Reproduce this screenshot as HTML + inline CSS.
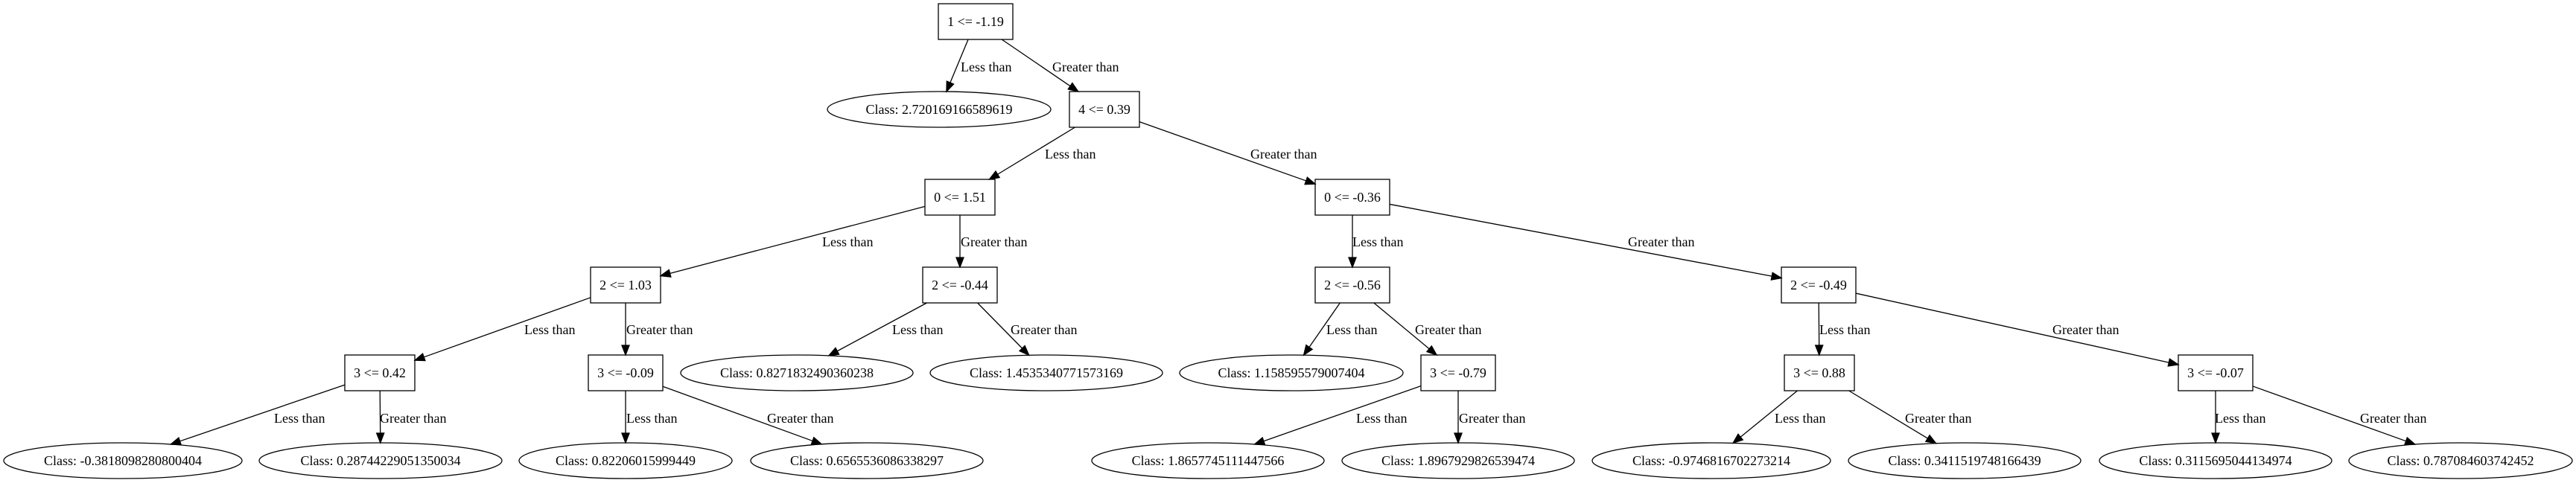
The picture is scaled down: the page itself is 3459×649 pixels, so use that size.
<!DOCTYPE html>
<html><head><meta charset="utf-8"><style>
html,body{margin:0;padding:0;background:#fff;}
svg{display:block;}
text{font-family:"Liberation Serif",serif;font-size:18px;fill:#000;}
</style></head><body>
<svg id="s" width="3459" height="649" viewBox="0 0 3459 649" xmlns="http://www.w3.org/2000/svg">
<g id="edges" stroke="#000" stroke-width="1.3" fill="#000"></g>
<g fill="none" stroke="#000" stroke-width="1.3">
<rect x="1260" y="5" width="100" height="48"/>
<ellipse cx="1261" cy="147" rx="150" ry="24"/>
<rect x="1436" y="123" width="94" height="48"/>
<rect x="1242" y="241" width="94" height="48"/>
<rect x="1766" y="241" width="100" height="48"/>
<rect x="793" y="359" width="94" height="48"/>
<rect x="1239" y="359" width="100" height="48"/>
<rect x="1766" y="359" width="100" height="48"/>
<rect x="2392" y="359" width="100" height="48"/>
<rect x="463" y="477" width="94" height="48"/>
<rect x="790" y="477" width="100" height="48"/>
<ellipse cx="1070" cy="501" rx="156" ry="24"/>
<ellipse cx="1405" cy="501" rx="156" ry="24"/>
<ellipse cx="1734" cy="501" rx="150" ry="24"/>
<rect x="1908" y="477" width="100" height="48"/>
<rect x="2396" y="477" width="94" height="48"/>
<rect x="2925" y="477" width="100" height="48"/>
<ellipse cx="165" cy="619" rx="160" ry="24"/>
<ellipse cx="511" cy="619" rx="163" ry="24"/>
<ellipse cx="840" cy="619" rx="143" ry="24"/>
<ellipse cx="1164" cy="619" rx="156" ry="24"/>
<ellipse cx="1622" cy="619" rx="156" ry="24"/>
<ellipse cx="1958" cy="619" rx="156" ry="24"/>
<ellipse cx="2298" cy="619" rx="160" ry="24"/>
<ellipse cx="2638" cy="619" rx="156" ry="24"/>
<ellipse cx="2975" cy="619" rx="156" ry="24"/>
<ellipse cx="3304" cy="619" rx="150" ry="24"/>
</g>
<g text-anchor="middle">
<text x="1310" y="35">1 &lt;= -1.19</text>
<text x="1261" y="153">Class: 2.720169166589619</text>
<text x="1483" y="153">4 &lt;= 0.39</text>
<text x="1289" y="271">0 &lt;= 1.51</text>
<text x="1816" y="271">0 &lt;= -0.36</text>
<text x="840" y="389">2 &lt;= 1.03</text>
<text x="1289" y="389">2 &lt;= -0.44</text>
<text x="1816" y="389">2 &lt;= -0.56</text>
<text x="2442" y="389">2 &lt;= -0.49</text>
<text x="510" y="507">3 &lt;= 0.42</text>
<text x="840" y="507">3 &lt;= -0.09</text>
<text x="1070" y="507">Class: 0.8271832490360238</text>
<text x="1405" y="507">Class: 1.4535340771573169</text>
<text x="1734" y="507">Class: 1.158595579007404</text>
<text x="1958" y="507">3 &lt;= -0.79</text>
<text x="2443" y="507">3 &lt;= 0.88</text>
<text x="2975" y="507">3 &lt;= -0.07</text>
<text x="165" y="625">Class: -0.3818098280800404</text>
<text x="511" y="625">Class: 0.28744229051350034</text>
<text x="840" y="625">Class: 0.82206015999449</text>
<text x="1164" y="625">Class: 0.6565536086338297</text>
<text x="1622" y="625">Class: 1.8657745111447566</text>
<text x="1958" y="625">Class: 1.8967929826539474</text>
<text x="2298" y="625">Class: -0.9746816702273214</text>
<text x="2638" y="625">Class: 0.3411519748166439</text>
<text x="2975" y="625">Class: 0.3115695044134974</text>
<text x="3304" y="625">Class: 0.787084603742452</text>
</g>
<g>
<text x="1290" y="96">Less than</text>
<text x="1413" y="96">Greater than</text>
<text x="1403" y="213">Less than</text>
<text x="1679" y="213">Greater than</text>
<text x="1104" y="331">Less than</text>
<text x="1290" y="331">Greater than</text>
<text x="1816" y="331">Less than</text>
<text x="2186" y="331">Greater than</text>
<text x="704" y="449">Less than</text>
<text x="841" y="449">Greater than</text>
<text x="1198" y="449">Less than</text>
<text x="1357" y="449">Greater than</text>
<text x="1781" y="449">Less than</text>
<text x="1900" y="449">Greater than</text>
<text x="2443" y="449">Less than</text>
<text x="2756" y="449">Greater than</text>
<text x="368" y="568">Less than</text>
<text x="510" y="568">Greater than</text>
<text x="841" y="568">Less than</text>
<text x="1030" y="568">Greater than</text>
<text x="1821" y="568">Less than</text>
<text x="1959" y="568">Greater than</text>
<text x="2383" y="568">Less than</text>
<text x="2558" y="568">Greater than</text>
<text x="2974" y="568">Less than</text>
<text x="3169" y="568">Greater than</text>
</g>
</svg>
<script>
var N={
r:[1310,29,'b',50],L272:[1261,147,'e',150],n4:[1483,147,'b',47],
n0a:[1289,265,'b',47],n0b:[1816,265,'b',50],
n2a:[840,383,'b',47],n2b:[1289,383,'b',50],n2c:[1816,383,'b',50],n2d:[2442,383,'b',50],
n3a:[510,501,'b',47],n3b:[840,501,'b',50],a:[1070,501,'e',156],b:[1405,501,'e',156],c:[1734,501,'e',150],
n3c:[1958,501,'b',50],n3d:[2443,501,'b',47],n3e:[2975,501,'b',50],
l1:[165,619,'e',160],l2:[511,619,'e',163],l3:[840,619,'e',143],l4:[1164,619,'e',156],
l5:[1622,619,'e',156],l6:[1958,619,'e',156],l7:[2298,619,'e',160],l8:[2638,619,'e',156],
l9:[2975,619,'e',156],l10:[3304,619,'e',150]};
var E=[['r','L272'],['r','n4'],['n4','n0a'],['n4','n0b'],['n0a','n2a'],['n0a','n2b'],['n0b','n2c'],['n0b','n2d'],
['n2a','n3a'],['n2a','n3b'],['n2b','a'],['n2b','b'],['n2c','c'],['n2c','n3c'],['n2d','n3d'],['n2d','n3e'],
['n3a','l1'],['n3a','l2'],['n3b','l3'],['n3b','l4'],['n3c','l5'],['n3c','l6'],['n3d','l7'],['n3d','l8'],['n3e','l9'],['n3e','l10']];
function clip(n,dx,dy){var t;if(n[2]=='b'){t=Math.min(n[3]/Math.abs(dx||1e-9),24/Math.abs(dy||1e-9));}
else{t=1/Math.sqrt(Math.pow(dx/n[3],2)+Math.pow(dy/24,2));}return t;}
var g=document.getElementById('edges'),h='';
E.forEach(function(e){var p=N[e[0]],c=N[e[1]];var dx=c[0]-p[0],dy=c[1]-p[1];var L=Math.hypot(dx,dy);
var ux=dx/L,uy=dy/L;var t1=clip(p,dx,dy),t2=clip(c,-dx,-dy);
var sx=p[0]+dx*t1,sy=p[1]+dy*t1,tx=c[0]-dx*t2,ty=c[1]-dy*t2;
var al=13,aw=5;var bx=tx-ux*al,by=ty-uy*al;
h+='<line x1="'+sx+'" y1="'+sy+'" x2="'+bx+'" y2="'+by+'"/>';
h+='<polygon points="'+tx+','+ty+' '+(bx-uy*aw)+','+(by+ux*aw)+' '+(bx+uy*aw)+','+(by-ux*aw)+'"/>';});
g.innerHTML=h;
</script>
</body></html>
